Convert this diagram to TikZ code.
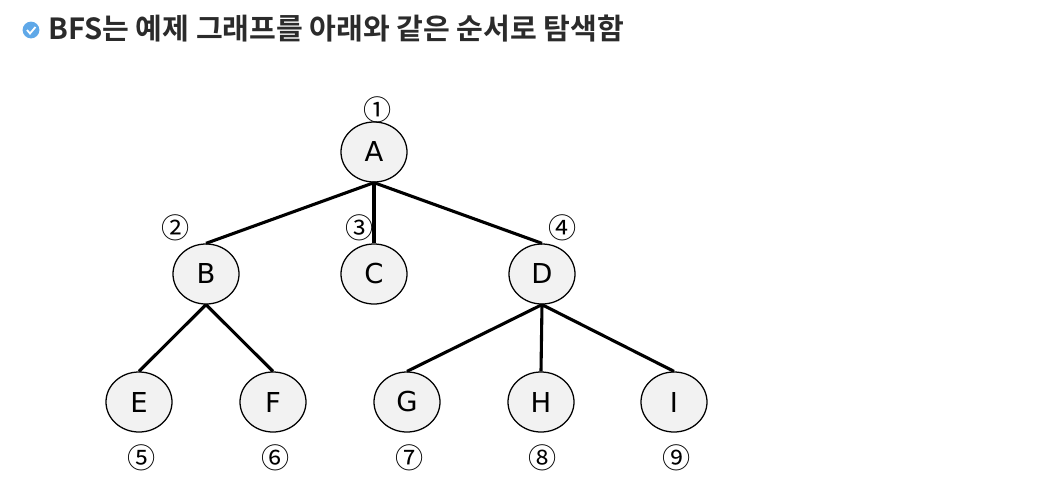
\documentclass[tikz,border=0pt]{standalone}
\usepackage{fontspec}
\setmainfont{DejaVu Sans}
\newfontfamily\krfont{Noto Sans CJK KR}[BoldFont={Noto Sans CJK KR Bold}]
\usetikzlibrary{arrows.meta, positioning, shapes.geometric}
\definecolor{nodegray}{HTML}{F2F2F2}
\definecolor{tickblue}{HTML}{5FA8E8}
\definecolor{headink}{HTML}{2B2B2B}

\begin{document}
\begin{tikzpicture}[
        x=0.025cm, y=-0.025cm,
        treenode/.style={draw=black, fill=nodegray, ellipse, line width=0.9pt, minimum width=1.65cm, minimum height=1.5cm, inner sep=0pt, font=\fontsize{19.5}{19.5}\selectfont},
        ordermark/.style={inner sep=0pt, font=\krfont\fontsize{20}{20}\selectfont},
        treeedge/.style={line width=2.2pt, black},
      ]
        \useasboundingbox (0,0) rectangle (1042,488);
        % heading
        \node[circle, fill=tickblue, minimum size=0.42cm, inner sep=0pt] (tick) at (31,30) {};
        \draw[white, line width=1.3pt] ([shift={(-4,0)}]tick.center) -- ([shift={(-1,3.5)}]tick.center) -- ([shift={(4.5,-3)}]tick.center);
        \node[anchor=west, inner sep=0pt, text=headink, font=\krfont\bfseries\fontsize{20.7}{21}\selectfont] (heading) at (48,29) {BFS는 예제 그래프를 아래와 같은 순서로 탐색함};
        % tree
        \node[treenode] (a) at (374,152) {A};
        \node[treenode] (b) at (206,274) {B};
        \node[treenode] (c) at (374,274) {C};
        \node[treenode] (d) at (542,274) {D};
        \node[treenode] (e) at (139,402) {E};
        \node[treenode] (f) at (273,402) {F};
        \node[treenode] (g) at (407,402) {G};
        \node[treenode] (h) at (541,402) {H};
        \node[treenode] (i) at (674,402) {I};
        \draw[treeedge] (a.south) -- (b.north);
        \draw[treeedge] (a.south) -- (c.north);
        \draw[treeedge] (a.south) -- (d.north);
        \draw[treeedge] (b.south) -- (e.north);
        \draw[treeedge] (b.south) -- (f.north);
        \draw[treeedge] (d.south) -- (g.north);
        \draw[treeedge] (d.south) -- (h.north);
        \draw[treeedge] (d.south) -- (i.north);
        % visiting order
        \node[ordermark] (o1) at (378,110) {①};
        \node[ordermark] (o2) at (176,228) {②};
        \node[ordermark] (o3) at (360,228) {③};
        \node[ordermark] (o4) at (563,228) {④};
        \node[ordermark] (o5) at (142,458) {⑤};
        \node[ordermark] (o6) at (276,458) {⑥};
        \node[ordermark] (o7) at (410,458) {⑦};
        \node[ordermark] (o8) at (543,458) {⑧};
        \node[ordermark] (o9) at (677,458) {⑨};
      \end{tikzpicture}
\end{document}
